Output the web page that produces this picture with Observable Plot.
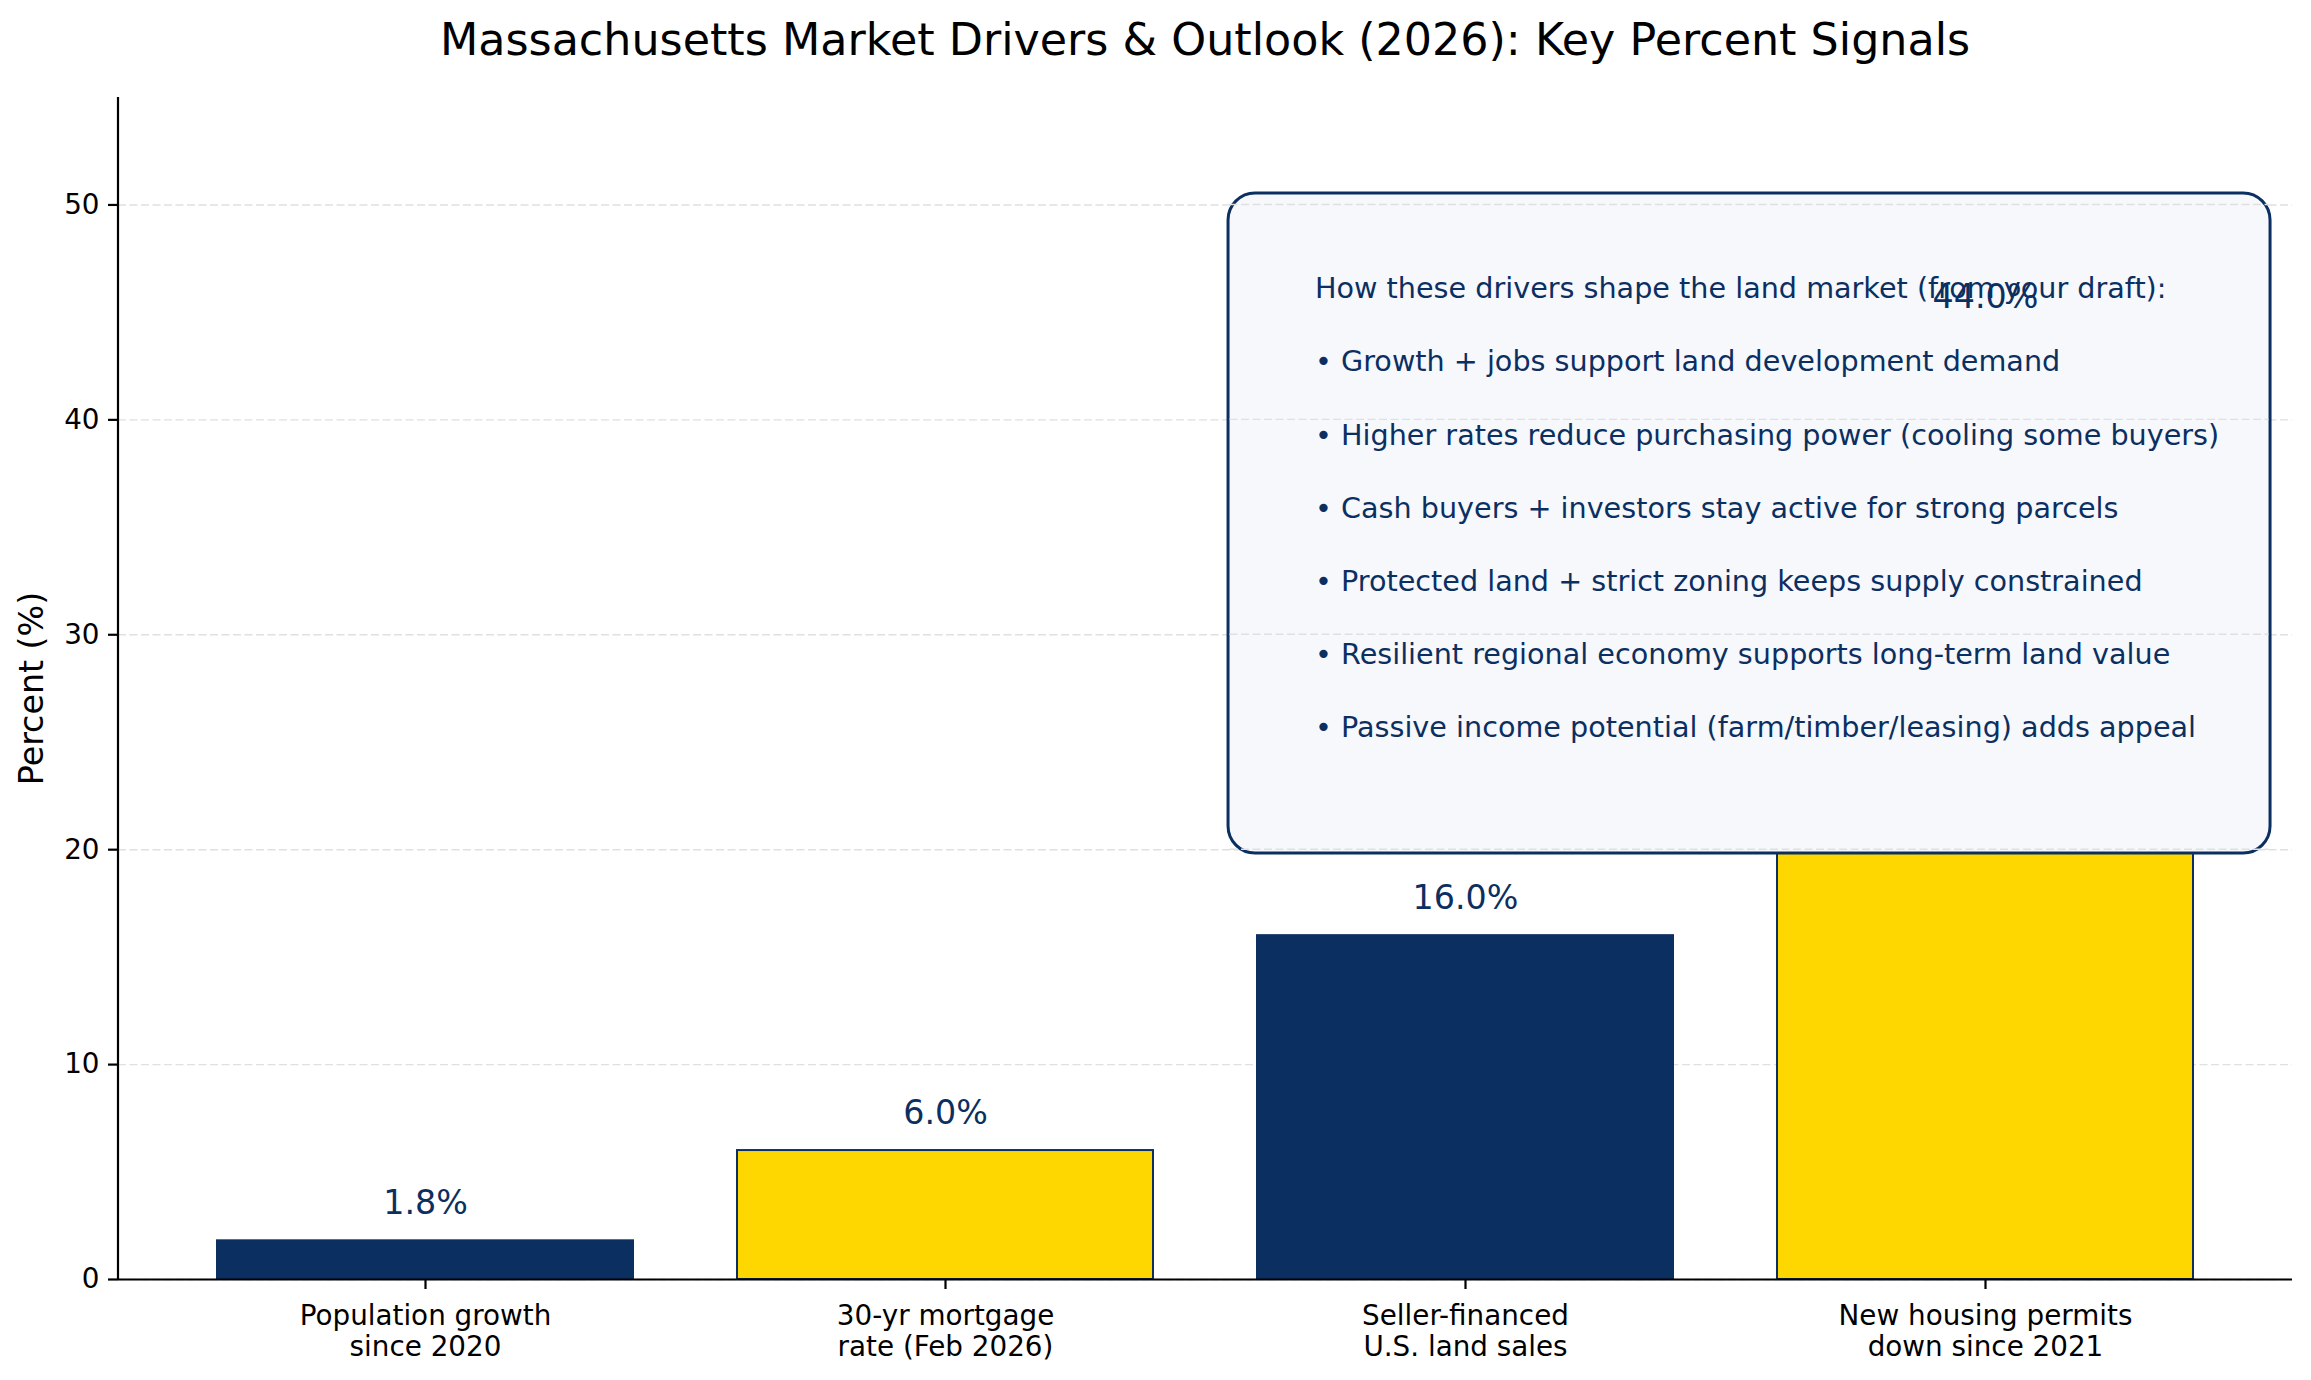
<!DOCTYPE html>
<html>
<head>
<meta charset="utf-8">
<script src="https://cdn.jsdelivr.net/npm/d3@7"></script>
<script src="https://cdn.jsdelivr.net/npm/@observablehq/plot@0.6"></script>
<style>
  html, body { margin: 0; padding: 0; background: #fff; }
  body { width: 2311px; height: 1380px; overflow: hidden; font-family: "DejaVu Sans", sans-serif; }
  #title { box-sizing: border-box; height: 80px; padding: 14px 19px 0 118px; text-align: center;
           font-size: 44.4px; line-height: 52px; color: #000; white-space: nowrap; }
</style>
</head>
<body>
<div id="title">Massachusetts Market Drivers &amp; Outlook (2026): Key Percent Signals</div>
<div id="chart"></div>
<script>
const categories = [
  "Population growth\nsince 2020",
  "30-yr mortgage\nrate (Feb 2026)",
  "Seller-financed\nU.S. land sales",
  "New housing permits\ndown since 2021"
];
const values = [1.8, 6.0, 16.0, 44.0];
const barColors = ["#0c2f61", "#ffd700", "#0c2f61", "#ffd700"];
const yTicks = [0, 10, 20, 30, 40, 50];
const yLabel = "Percent (%)";
const boxLines = [
  "How these drivers shape the land market (from your draft):",
  "\u2022 Growth + jobs support land development demand",
  "\u2022 Higher rates reduce purchasing power (cooling some buyers)",
  "\u2022 Cash buyers + investors stay active for strong parcels",
  "\u2022 Protected land + strict zoning keeps supply constrained",
  "\u2022 Resilient regional economy supports long-term land value",
  "\u2022 Passive income potential (farm/timber/leasing) adds appeal"
];

const navy = "#0c2f61";
const gridStyle = {stroke: "#e0e0e0", strokeWidth: 1.4, strokeDasharray: "8,3.5"};

function leftSpine(index, scales, values, dims) {
  const yb = dims.height - dims.marginBottom, yt = dims.marginTop;
  const g = d3.create("svg:g");
  g.append("line")
    .attr("x1", dims.marginLeft).attr("x2", dims.marginLeft)
    .attr("y1", yt).attr("y2", yb + 1.1)
    .attr("stroke", "#000").attr("stroke-width", 2.2);
  return g.node();
}

function infoBox(index, scales, values, dims) {
  const fw = dims.width - dims.marginLeft - dims.marginRight;
  const fh = dims.height - dims.marginTop - dims.marginBottom;
  const x0 = dims.marginLeft + 0.5106 * fw, x1 = dims.marginLeft + 0.9899 * fw;
  const y0 = dims.marginTop + 0.0812 * fh, y1 = dims.marginTop + 0.6396 * fh;
  const g = d3.create("svg:g");
  g.append("rect")
    .attr("x", x0).attr("y", y0).attr("width", x1 - x0).attr("height", y1 - y0)
    .attr("rx", 27).attr("ry", 27)
    .attr("fill", "#f6f8fc").attr("stroke", navy).attr("stroke-width", 3);
  for (const t of yTicks) {
    const y = scales.y(t);
    if (y > y0 + 1 && y < y1) {
      g.append("line").attr("x1", x0 + 1.5).attr("x2", x1 - 1.5).attr("y1", y).attr("y2", y)
        .attr("stroke", gridStyle.stroke).attr("stroke-width", gridStyle.strokeWidth)
        .attr("stroke-dasharray", gridStyle.strokeDasharray);
    }
  }
  boxLines.forEach((s, i) => {
    g.append("text")
      .attr("x", x0 + 87).attr("y", y0 + 95 + i * 73.2)
      .attr("dy", "0.36em")
      .attr("text-anchor", "start")
      .attr("fill", navy)
      .attr("font-size", 28.65)
      .attr("font-family", "DejaVu Sans")
      .text(s);
  });
  return g.node();
}

const chart = Plot.plot({
  width: 2311,
  height: 1300,
  marginLeft: 118,
  marginRight: 19,
  marginTop: 17,
  marginBottom: 101,
  style: {fontFamily: "DejaVu Sans", background: "#fff", overflow: "visible"},
  x: {domain: categories, paddingInner: 0.2, paddingOuter: 0.19, axis: null},
  y: {domain: [0, 55], axis: null},
  color: {domain: categories, range: barColors},
  marks: [
    Plot.gridY(yTicks, {...gridStyle, strokeOpacity: 1}),
    Plot.barY(values, {
      x: (d, i) => categories[i],
      y: d => d,
      fill: (d, i) => categories[i],
      stroke: navy,
      strokeWidth: 2
    }),
    infoBox,
    Plot.text(values, {
      x: (d, i) => categories[i],
      y: d => d,
      text: d => d.toFixed(1) + "%",
      dy: -37,
      fill: navy,
      fontSize: 33.3,
      textAnchor: "middle",
      lineAnchor: "middle"
    }),
    Plot.axisY({ticks: yTicks, tickSize: 10, tickPadding: 9, fontSize: 27.8, strokeWidth: 2.2, label: null}),
    Plot.axisX({tickSize: 10, tickPadding: 12.7, fontSize: 27.8, lineHeight: 1.14, strokeWidth: 2.2, label: null}),
    Plot.ruleY([0], {stroke: "#000", strokeWidth: 2.2}),
    leftSpine,
    Plot.text([yLabel], {frameAnchor: "left", rotate: -90, dx: -86, fontSize: 33.3, fill: "#000", textAnchor: "middle", lineAnchor: "middle"})
  ]
});
document.getElementById("chart").appendChild(chart);
</script>
</body>
</html>
